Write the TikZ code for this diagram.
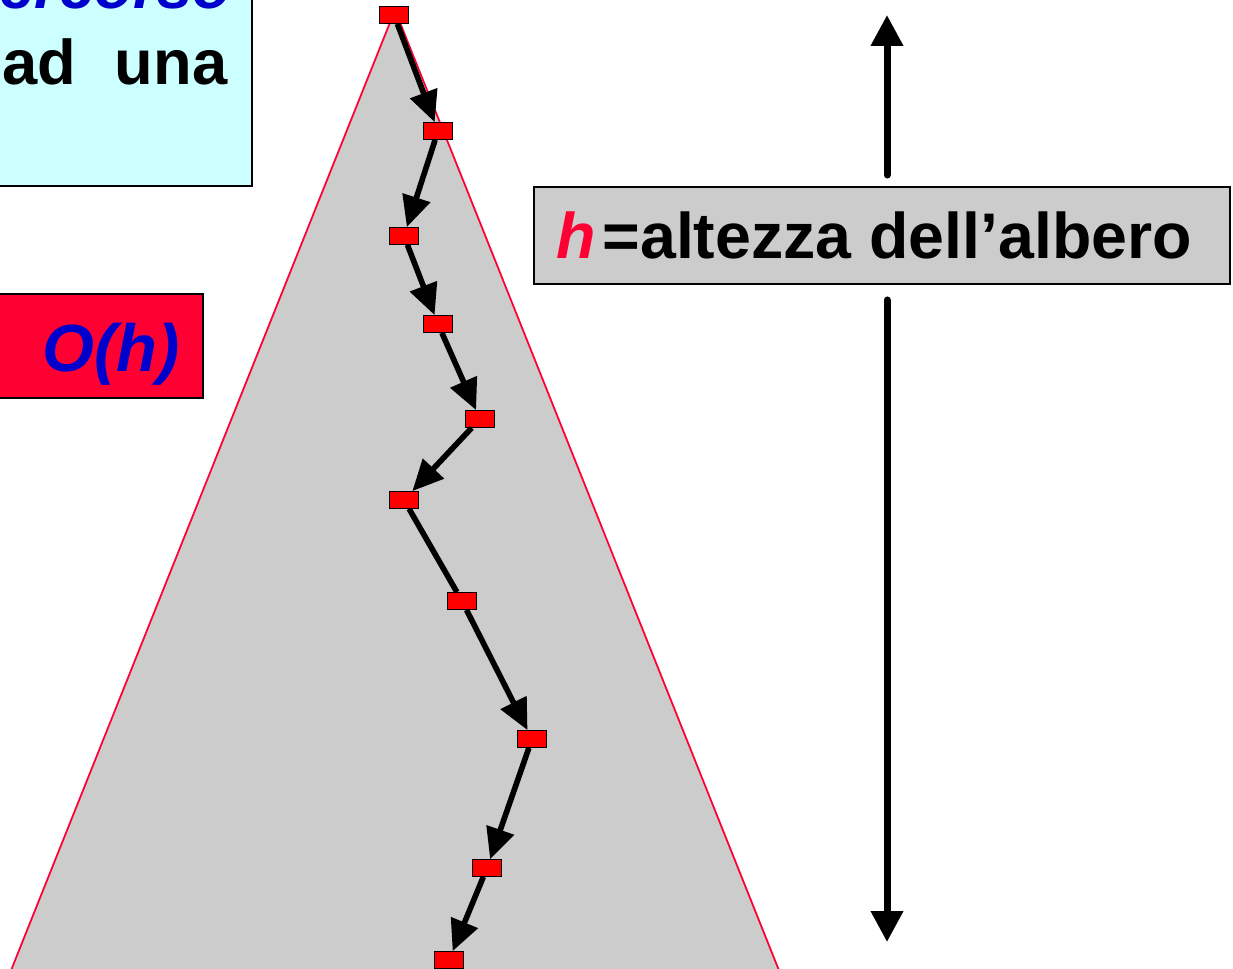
\documentclass[tikz,border=0pt]{standalone}
\usepackage{fontspec}
\setmainfont{Liberation Sans}
\usetikzlibrary{arrows.meta}
\definecolor{nodered}{HTML}{FF0000}
\definecolor{edgered}{HTML}{FF0033}
\definecolor{treegray}{HTML}{CCCCCC}
\definecolor{lightcyan}{HTML}{CCFFFF}
\definecolor{darkblue}{HTML}{0000CC}
\tikzstyle{tnode} = [rectangle, draw=black, fill=nodered, line width=0.7pt, minimum width=0.58cm, minimum height=0.33cm, inner sep=0pt]
\tikzstyle{arrow} = [line width=3.2pt, -{Triangle[length=0.62cm, width=0.56cm]}]
\tikzstyle{harrow} = [line width=4pt, line cap=round, -{Triangle[length=0.62cm, width=0.62cm]}]
\tikzstyle{bigtext} = [inner sep=0pt, font=\fontsize{36}{43}\selectfont\bfseries]
\tikzstyle{box} = [draw=black, line width=0.8pt]

\begin{document}
\begin{tikzpicture}[x=0.02cm, y=-0.02cm]
            \useasboundingbox (0,0) rectangle (1233,969);
            \clip (0,0) rectangle (1233,969);

            \fill[treegray] (395,10) -- (0,998) -- (790,998) -- cycle;
            \draw[edgered, line width=1pt] (0,998) -- (395,10) -- (790,998);

            \node (n1) [tnode] at (394,15) {};
            \node (n2) [tnode] at (438,131) {};
            \node (n3) [tnode] at (404,236) {};
            \node (n4) [tnode] at (438,324) {};
            \node (n5) [tnode] at (480,419) {};
            \node (n6) [tnode] at (404,500) {};
            \node (n7) [tnode] at (462,601) {};
            \node (n8) [tnode] at (532,739) {};
            \node (n9) [tnode] at (487,868) {};
            \node (n10) [tnode] at (449,960) {};

            \draw [arrow] (n1) -- (n2);
            \draw [arrow] (n2) -- (n3);
            \draw [arrow] (n3) -- (n4);
            \draw [arrow] (n4) -- (n5);
            \draw [arrow] (n5) -- (n6);
            \draw [line width=3.2pt] (n6) -- (n7);
            \draw [arrow] (n7) -- (n8);
            \draw [arrow] (n8) -- (n9);
            \draw [arrow] (n9) -- (n10);

            \draw[box, fill=lightcyan] (-10,-10) rectangle (252,186);
            \node (perc) [bigtext, text=darkblue, anchor=base east] at (232,9) {\itshape percorso};
            \node (adna) [bigtext, anchor=base west] at (2,85) {ad\hspace{22pt}una};

            \draw[box, fill=edgered] (-10,294) rectangle (203,398);
            \node (cost) [bigtext, text=darkblue, anchor=base, font=\fontsize{38}{45}\selectfont\bfseries] at (111,371) {\itshape O(h)};

            \node (height) [bigtext, box, fill=treegray, minimum width=13.92cm, minimum height=1.94cm, font=\fontsize{36.7}{44}\selectfont\bfseries] at (882,235.5) {\textcolor{edgered}{\itshape h}\hspace{4pt}=altezza dell'albero\kern9pt};

            \coordinate (hupfrom) at (887,175);
            \coordinate (hupto) at (887,15);
            \coordinate (hdownfrom) at (887,300);
            \coordinate (hdownto) at (887,942);
            \draw [harrow] (hupfrom) -- (hupto);
            \draw [harrow] (hdownfrom) -- (hdownto);
        \end{tikzpicture}
\end{document}
